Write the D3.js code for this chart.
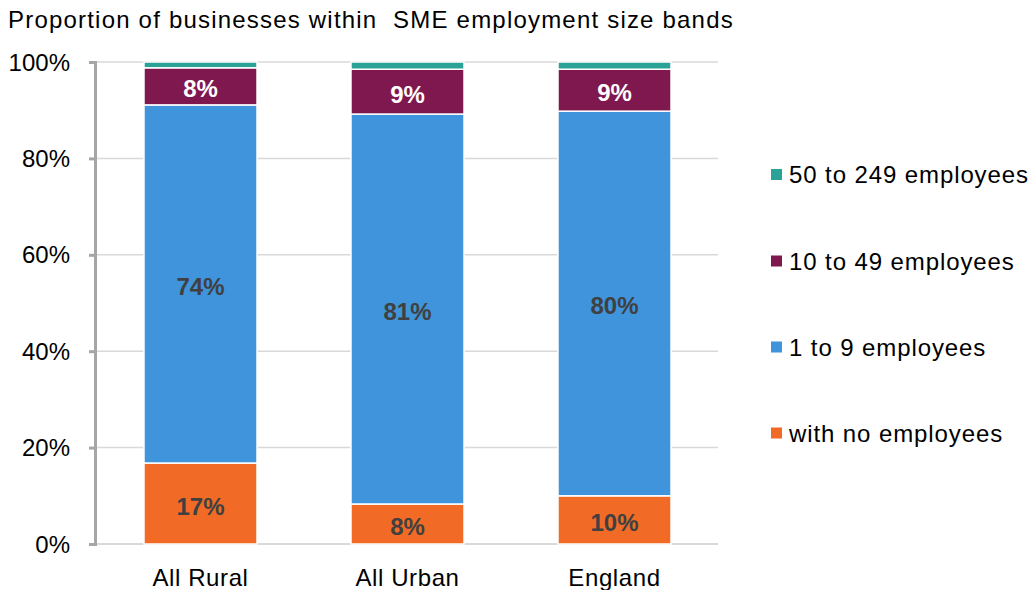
<!DOCTYPE html>
<html><head><meta charset="utf-8">
<script src="https://cdn.jsdelivr.net/npm/d3@7"></script>
<style>body{margin:0;background:#fff}svg{display:block;font-family:"Liberation Sans",Arial,sans-serif}</style>
</head><body><svg id="c" width="1031" height="590"></svg>
<script>
const categories = ["All Rural", "All Urban", "England"];
const seriesNames = ["with no employees", "1 to 9 employees", "10 to 49 employees", "50 to 249 employees"];
const noEmployees = [16.8, 8.3, 10.0];
const oneToNine = [74.3, 80.9, 79.8];
const tenToFortyNine = [7.7, 9.3, 8.7];
const fiftyTo249 = [1.2, 1.5, 1.5];
const yTicks = [0, 20, 40, 60, 80, 100];
const colors = ["#f26b26", "#3f94dc", "#7e184f", "#2aa297"];
const labelColors = ["#404040", "#404040", "#ffffff", null];

const svg = d3.select("#c");
const x0 = 97, x1 = 718, yTop = 62, yBot = 544;
const x = d3.scaleBand().domain(categories).range([x0, x1]).paddingInner(0.454).paddingOuter(0.227);
const y = d3.scaleLinear().domain([0, 100]).range([yBot, yTop]);

const rows = categories.map((c, i) => ({cat: c, s0: noEmployees[i], s1: oneToNine[i], s2: tenToFortyNine[i], s3: fiftyTo249[i]}));
const stack = d3.stack().keys(["s0", "s1", "s2", "s3"])(rows);

// gridlines
svg.append("g").selectAll("line").data(yTicks.filter(t => t > 0)).join("line")
  .attr("x1", x0).attr("x2", x1).attr("y1", d => y(d)).attr("y2", d => y(d))
  .attr("stroke", "#d9d9d9").attr("stroke-width", 1.5);
// bottom axis line
svg.append("line").attr("x1", x0 - 6).attr("x2", x1).attr("y1", yBot).attr("y2", yBot)
  .attr("stroke", "#d9d9d9").attr("stroke-width", 2);

// bars
stack.forEach((layer, k) => {
  svg.append("g").selectAll("rect").data(layer).join("rect")
    .attr("x", d => x(d.data.cat)).attr("width", x.bandwidth())
    .attr("y", d => y(d[1])).attr("height", d => y(d[0]) - y(d[1]))
    .attr("fill", colors[k]).attr("stroke", "#fff").attr("stroke-width", 1.5);
  if (labelColors[k]) {
    svg.append("g").selectAll("text").data(layer).join("text")
      .attr("x", d => x(d.data.cat) + x.bandwidth() / 2)
      .attr("y", d => (y(d[0]) + y(d[1])) / 2 + 11)
      .attr("text-anchor", "middle").attr("font-size", 24).attr("font-weight", "bold")
      .attr("fill", labelColors[k])
      .text(d => Math.round(d[1] - d[0]) + "%");
  }
});

// y axis
const yAxis = svg.append("g").attr("transform", `translate(${x0 - 2},0)`)
  .call(d3.axisLeft(y).tickValues(yTicks).tickFormat(d => d + "%").tickSize(6).tickPadding(19));
yAxis.select(".domain").attr("stroke", "#a6a6a6").attr("stroke-width", 3);
yAxis.selectAll(".tick line").attr("stroke", "#a6a6a6").attr("stroke-width", 3);
yAxis.selectAll("text").attr("font-size", 24).attr("fill", "#000").attr("dy", "0.34em")
  .attr("font-family", "Liberation Sans, Arial, sans-serif");

// x labels
svg.append("g").selectAll("text").data(categories).join("text")
  .attr("x", d => x(d) + x.bandwidth() / 2).attr("y", 586)
  .attr("text-anchor", "middle").attr("font-size", 24).attr("letter-spacing", 0.6)
  .attr("fill", "#000").text(d => d);

// title
svg.append("text").attr("x", 8).attr("y", 28).attr("font-size", 24).attr("fill", "#000")
  .attr("letter-spacing", 1.2)
  .attr("xml:space", "preserve").style("white-space", "pre")
  .text("Proportion of businesses within  SME employment size bands");

// legend
const legendOrder = [3, 2, 1, 0];
const legendY = [174.5, 261, 347, 433];
const lg = svg.append("g").selectAll("g").data(legendOrder).join("g")
  .attr("transform", (d, i) => `translate(771,${legendY[i]})`);
lg.append("rect").attr("x", 0).attr("y", -5.5).attr("width", 11).attr("height", 11).attr("fill", d => colors[d]);
lg.append("text").attr("x", 18).attr("y", 8.5).attr("font-size", 24).attr("letter-spacing", 0.9)
  .attr("fill", "#000").text(d => seriesNames[d]);
</script></body></html>
